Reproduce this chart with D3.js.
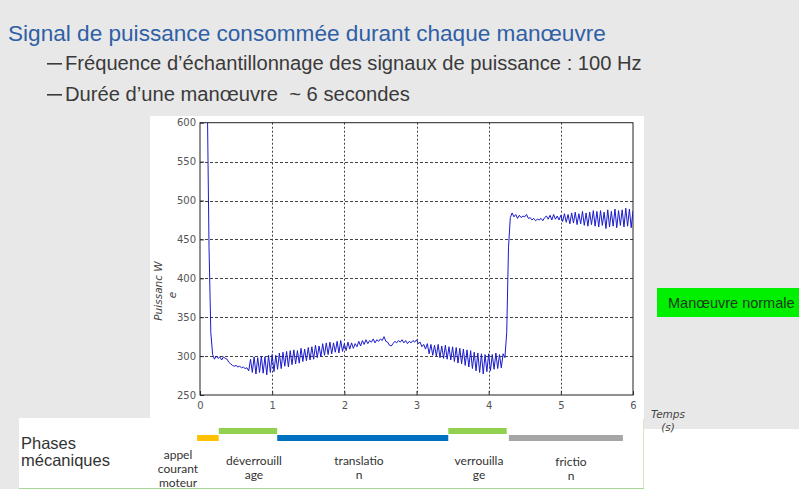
<!DOCTYPE html>
<html><head><meta charset="utf-8">
<script src="https://cdn.jsdelivr.net/npm/d3@7"></script>
<style>html,body{margin:0;padding:0;background:#e8e8e8;overflow:hidden}</style>
</head><body>
<script>
// ---------------- DATA ----------------
const titleText = "Signal de puissance consommée durant chaque manœuvre";
const bulletTexts = ["Fréquence d’échantillonnage des signaux de puissance : 100 Hz",
                     "Durée d’une manœuvre  ~ 6 secondes"];
const xTicks = [0, 1, 2, 3, 4, 5, 6];
const yTicks = [250, 300, 350, 400, 450, 500, 550, 600];
const xLabel = ["Temps", "(s)"];
const yLabel = ["Puissanc W", "e"];
const sampleStep = 0.025; // seconds between read samples
// power (W), every 0.025 s from 0 to 6 s
const power = [
  800, 790, 760, 720, 640, 440, 330, 302, 296, 300, 297, 299, 295, 299, 297, 296, 292, 290, 288, 287,
  288, 286, 287, 285, 286, 284, 285, 281, 296, 279, 299, 277, 298, 279, 300, 278, 299, 276, 301, 279,
  302, 280, 301, 283, 304, 284, 305, 287, 306, 286, 307, 289, 308, 290, 307, 291, 310, 293, 309, 294,
  311, 295, 312, 296, 314, 298, 313, 299, 316, 301, 317, 302, 318, 303, 317, 305, 319, 304, 320, 306,
  316, 307, 318, 309, 317, 310, 316, 312, 319, 313, 320, 315, 321, 316, 320, 318, 322, 317, 321, 319,
  322, 320, 325, 319, 318, 314, 313, 316, 319, 317, 320, 318, 321, 317, 320, 316, 319, 317, 320, 318,
  321, 316, 318, 312, 315, 309, 316, 303, 315, 301, 314, 300, 315, 298, 313, 297, 314, 296, 312, 295,
  312, 293, 311, 291, 310, 290, 309, 288, 308, 286, 307, 284, 305, 281, 304, 279, 303, 277, 302, 280,
  303, 281, 302, 283, 304, 284, 302, 285, 303, 298, 330, 440, 478, 484, 479, 482, 477, 481, 478, 480,
  479, 482, 477, 478, 475, 477, 474, 476, 475, 477, 474, 478, 480, 476, 481, 475, 482, 476, 480, 475,
  481, 473, 483, 472, 482, 470, 484, 471, 485, 469, 483, 470, 486, 468, 484, 467, 485, 469, 487, 467,
  486, 466, 487, 468, 485, 464, 488, 466, 486, 467, 489, 465, 487, 468, 488, 466, 490, 467, 489, 465, 487
];
const phaseNames = [["appel", "courant", "moteur"], ["déverrouill", "age"], ["translatio", "n"], ["verrouilla", "ge"], ["frictio", "n"]];
const phaseStart = [-0.04, 0.26, 1.07, 3.44, 4.28];
const phaseEnd   = [0.26, 1.07, 3.44, 4.25, 5.86];
const phasesTitle = ["Phases", "mécaniques"];
const statusLabel = "Manœuvre normale";

// ---------------- LAYOUT / STYLE ----------------
const W = 799, H = 489;
const phaseColors = ["#FFC000", "#92D050", "#0070C0", "#92D050", "#A6A6A6"];
const phaseRowY = [435, 428, 435, 428, 435];
const phaseLabelX = [178, 254, 359, 479, 571];
const phaseLabelY = [[459, 473, 487], [465, 479], [465, 479], [465, 479], [466, 480]];

const svg = d3.select("body").append("svg").attr("width", W).attr("height", H)
  .style("display", "block");
svg.append("rect").attr("width", W).attr("height", H).attr("fill", "#e8e8e8");

// white panels
svg.append("rect").attr("x", 150).attr("y", 116).attr("width", 494).attr("height", 303).attr("fill", "#fff");
svg.append("rect").attr("x", 19).attr("y", 418).attr("width", 625).attr("height", 71).attr("fill", "#fff");
svg.append("rect").attr("x", 644).attr("y", 429).attr("width", 155).attr("height", 60).attr("fill", "#fff");
svg.append("line").attr("x1", 643.5).attr("x2", 643.5).attr("y1", 419).attr("y2", 489).attr("stroke", "#d4e6cc");
svg.append("line").attr("x1", 19).attr("x2", 644).attr("y1", 488.5).attr("y2", 488.5).attr("stroke", "#a8d598").attr("stroke-width", 1);

// title + bullets
function fit(sel, target) {
  const fs = parseFloat(sel.attr("font-size"));
  const len = sel.node().getComputedTextLength();
  sel.attr("font-size", fs * target / len);
}
const tt = svg.append("text").attr("x", 8).attr("y", 41).attr("font-family", "Liberation Sans, Arial, sans-serif")
  .attr("font-size", 21).attr("fill", "#2f5fa6").text(titleText);
fit(tt, 598);
const bulletY = [70, 101], bulletW = [577, 345];
bulletTexts.forEach((b, i) => {
  svg.append("rect").attr("x", 47).attr("y", bulletY[i] - 7).attr("width", 15).attr("height", 1.6).attr("fill", "#3a3a3a");
  const t = svg.append("text").attr("x", 65).attr("y", bulletY[i]).attr("font-family", "Liberation Sans, Arial, sans-serif")
    .attr("font-size", 18).attr("fill", "#3a3a3a").style("white-space", "pre").text(b);
  fit(t, bulletW[i]);
});

// plot
const x = d3.scaleLinear().domain([0, 6]).range([200, 633]);
const y = d3.scaleLinear().domain([250, 600]).range([395, 122.7]);
const g = svg.append("g");

// grid
g.selectAll("line.gx").data(xTicks.slice(1, -1)).join("line")
  .attr("x1", d => Math.round(x(d)) + 0.5).attr("x2", d => Math.round(x(d)) + 0.5)
  .attr("y1", y(600)).attr("y2", y(250)).attr("stroke", "#444").attr("stroke-dasharray", "2,2");
g.selectAll("line.gy").data(yTicks.slice(1, -1)).join("line")
  .attr("y1", d => Math.round(y(d)) + 0.5).attr("y2", d => Math.round(y(d)) + 0.5)
  .attr("x1", x(0)).attr("x2", x(6)).attr("stroke", "#444").attr("stroke-dasharray", "3,2");

// axes
const axB = g.append("g").attr("transform", `translate(0,${y(250)})`)
  .call(d3.axisBottom(x).tickValues(xTicks).tickFormat(d3.format("d")).tickSizeInner(-4).tickSizeOuter(0).tickPadding(14));
const axL = g.append("g").attr("transform", `translate(${x(0)},0)`)
  .call(d3.axisLeft(y).tickValues(yTicks).tickFormat(d3.format("d")).tickSizeInner(-4).tickSizeOuter(0).tickPadding(4));
[axB, axL].forEach(a => {
  a.select(".domain").remove();
  a.selectAll("text").attr("font-family", "DejaVu Sans, sans-serif").attr("font-size", 10).attr("fill", "#555");
  a.selectAll("line").attr("stroke", "#333");
});
axB.selectAll("text").attr("dy", "0");
// frame
g.append("rect").attr("x", x(0)).attr("y", y(600)).attr("width", x(6) - x(0)).attr("height", y(250) - y(600))
  .attr("fill", "none").attr("stroke", "#222");

// signal
svg.append("clipPath").attr("id", "clip").append("rect")
  .attr("x", x(0)).attr("y", y(600)).attr("width", x(6) - x(0)).attr("height", y(250) - y(600));
const line = d3.line().x((d, i) => x(i * sampleStep)).y(d => y(d));
g.append("path").datum(power).attr("clip-path", "url(#clip)").attr("d", line)
  .attr("fill", "none").attr("stroke", "#1a1acc").attr("stroke-width", 1);

// axis labels
const xl = svg.append("text").attr("font-family", "DejaVu Sans, sans-serif").attr("font-style", "italic")
  .attr("font-size", 10.5).attr("fill", "#444").attr("text-anchor", "middle");
xl.append("tspan").attr("x", 668).attr("y", 418).text(xLabel[0]);
xl.append("tspan").attr("x", 668).attr("y", 431).text(xLabel[1]);
const yl = svg.append("text").attr("font-family", "DejaVu Sans, sans-serif").attr("font-style", "italic")
  .attr("font-size", 10.5).attr("fill", "#444").attr("text-anchor", "middle")
  .attr("transform", "translate(162,291) rotate(-90)");
yl.append("tspan").attr("x", 0).attr("y", 0).text(yLabel[0]);
yl.append("tspan").attr("x", -4).attr("y", 14).text(yLabel[1]);

// phases
phaseStart.forEach((s, i) => {
  svg.append("rect").attr("x", x(s)).attr("y", phaseRowY[i]).attr("width", x(phaseEnd[i]) - x(s)).attr("height", 6)
    .attr("fill", phaseColors[i]);
  const t = svg.append("text").attr("font-family", "Lato, Open Sans, sans-serif").attr("font-size", 12)
    .attr("fill", "#333").attr("text-anchor", "middle");
  phaseNames[i].forEach((ln, j) => t.append("tspan").attr("x", phaseLabelX[i]).attr("y", phaseLabelY[i][j]).text(ln));
});
const pt = svg.append("text").attr("font-family", "Liberation Sans, Arial, sans-serif").attr("font-size", 16.5).attr("fill", "#333");
pt.append("tspan").attr("x", 21).attr("y", 448.5).text(phasesTitle[0]);
pt.append("tspan").attr("x", 21).attr("y", 466).text(phasesTitle[1]);

// status label
svg.append("rect").attr("x", 657).attr("y", 288).attr("width", 150).attr("height", 29).attr("fill", "#00f000");
svg.append("text").attr("x", 668).attr("y", 307.5).attr("font-family", "Liberation Sans, Arial, sans-serif")
  .attr("font-size", 14.5).attr("fill", "#1d3a1d").text(statusLabel);
</script>
</body></html>
